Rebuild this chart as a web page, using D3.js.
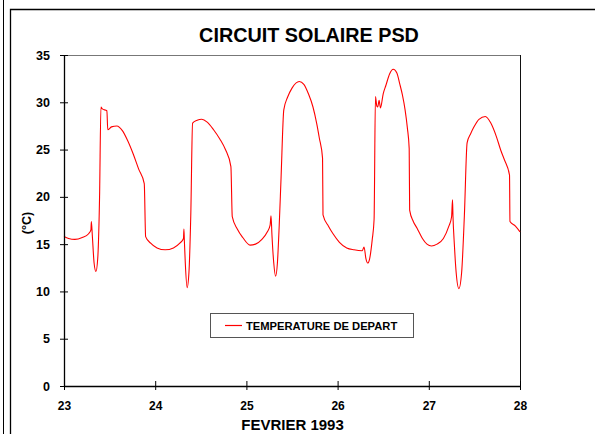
<!DOCTYPE html>
<html>
<head>
<meta charset="utf-8">
<script src="https://cdn.jsdelivr.net/npm/d3@7"></script>
<style>
  html, body { margin: 0; padding: 0; background: #fff; }
  svg { display: block; font-family: "Liberation Sans", Arial, sans-serif; }
</style>
</head>
<body>
<svg id="chart" width="595" height="434"></svg>
<script>
// ---- data ----
const title = "CIRCUIT SOLAIRE PSD";
const xTitle = "FEVRIER 1993";
const yTitle = "(°C)";
const seriesName = "TEMPERATURE DE DEPART";
const xTicks = [23, 24, 25, 26, 27, 28];
const yTicks = [0, 5, 10, 15, 20, 25, 30, 35];

const days = [
  23.00, 23.05, 23.12, 23.20, 23.27, 23.295, 23.30, 23.31, 23.33, 23.35, 23.37, 23.39, 23.405, 23.42, 23.47, 23.48,
  23.52, 23.58, 23.64, 23.70, 23.76, 23.82, 23.88, 23.895, 23.95, 24.02, 24.11, 24.20, 24.27, 24.31, 24.315, 24.32,
  24.33, 24.35, 24.37, 24.39, 24.41, 24.46, 24.51, 24.57, 24.64, 24.71, 24.77, 24.83, 24.845, 24.90, 24.96, 25.04,
  25.10, 25.17, 25.23, 25.26, 25.27, 25.28, 25.30, 25.32, 25.34, 25.36, 25.38, 25.41, 25.45, 25.50, 25.58, 25.63,
  25.68, 25.73, 25.77, 25.80, 25.835, 25.84, 25.90, 25.95, 26.02, 26.10, 26.18, 26.27, 26.29, 26.31, 26.33, 26.35,
  26.38, 26.40, 26.415, 26.43, 26.44, 26.455, 26.47, 26.50, 26.53, 26.57, 26.61, 26.65, 26.68, 26.71, 26.74, 26.765,
  26.785, 26.79, 26.83, 26.87, 26.93, 26.98, 27.03, 27.09, 27.16, 27.22, 27.25, 27.26, 27.265, 27.28, 27.30, 27.33,
  27.36, 27.39, 27.42, 27.46, 27.49, 27.55, 27.62, 27.68, 27.74, 27.79, 27.83, 27.885, 27.89, 27.95, 28.00
];
const temps = [
  15.8, 15.6, 15.5, 15.7, 16.1, 16.5, 17.4, 16.0, 13.0, 12.1, 13.5, 20.0, 29.5, 29.3, 29.1, 27.1,
  27.4, 27.5, 27.0, 25.9, 24.5, 22.9, 21.4, 15.8, 15.1, 14.6, 14.4, 14.6, 15.1, 15.6, 16.6, 15.3,
  13.0, 10.4, 12.0, 18.0, 27.8, 28.1, 28.2, 27.9, 27.1, 26.1, 25.0, 23.2, 17.9, 16.6, 15.7, 14.9,
  15.0, 15.5, 16.3, 17.0, 18.0, 16.0, 13.0, 11.6, 13.0, 17.0, 22.0, 29.2, 30.5, 31.5, 32.2, 31.9,
  30.9, 29.5, 27.8, 26.2, 24.1, 18.1, 16.9, 16.1, 15.2, 14.6, 14.4, 14.3, 14.7, 13.5, 13.0, 13.4,
  15.5, 17.6, 30.6, 29.6, 29.5, 30.2, 29.4, 30.9, 31.8, 33.0, 33.5, 33.1, 32.0, 30.8, 29.2, 27.3,
  25.1, 18.6, 17.4, 16.7, 15.6, 15.0, 14.8, 15.0, 15.6, 16.9, 17.9, 19.7, 18.0, 15.0, 12.0, 10.3,
  12.0, 18.0, 25.7, 26.7, 27.3, 28.2, 28.5, 27.8, 26.4, 24.9, 23.9, 22.3, 17.4, 16.9, 16.3
];

// ---- layout ----
const svg = d3.select("#chart");
const L = 64, R = 520, T = 55, B = 386;
const x = d3.scaleLinear().domain([23, 28]).range([L, R]);
const y = d3.scaleLinear().domain([0, 35]).range([B, T]);

// outer frames
svg.append("line").attr("x1", 3.5).attr("x2", 3.5).attr("y1", 0).attr("y2", 434)
  .attr("stroke", "#000").attr("stroke-width", 1);
svg.append("path").attr("d", "M10.5,434 V9.5 H595")
  .attr("fill", "none").attr("stroke", "#000").attr("stroke-width", 1.3);

// plot border top/right
svg.append("line").attr("x1", L).attr("x2", R).attr("y1", T + 0.5).attr("y2", T + 0.5)
  .attr("stroke", "#777").attr("stroke-width", 1);
svg.append("line").attr("x1", R + 0.5).attr("x2", R + 0.5).attr("y1", T).attr("y2", B)
  .attr("stroke", "#111").attr("stroke-width", 1);

// line
const line = d3.line()
  .x((d, i) => x(days[i]))
  .y((d, i) => y(temps[i]))
  .curve(d3.curveMonotoneX);
svg.append("path").datum(temps)
  .attr("d", line)
  .attr("fill", "none")
  .attr("stroke", "#ff0000")
  .attr("stroke-width", 1.1);

// axes
const yAxis = d3.axisLeft(y).tickValues(yTicks).tickSize(0).tickPadding(14).tickFormat(d3.format("d"));
const gy = svg.append("g").attr("transform", `translate(${L},0)`).call(yAxis);
gy.select(".domain").attr("stroke", "#000").attr("stroke-width", 1.3);
gy.selectAll(".tick line").remove();
gy.selectAll(".tick").append("line").attr("x1", -4).attr("x2", 4).attr("stroke", "#000").attr("stroke-width", 1);
gy.selectAll(".tick text").attr("font-size", 12.5).attr("font-weight", "bold").attr("fill", "#000")
  .attr("font-family", "Liberation Sans, Arial, sans-serif");

const xAxis = d3.axisBottom(x).tickValues(xTicks).tickSize(0).tickPadding(15).tickFormat(d3.format("d"));
const gx = svg.append("g").attr("transform", `translate(0,${B})`).call(xAxis);
gx.select(".domain").attr("stroke", "#000").attr("stroke-width", 1.3);
gx.selectAll(".tick line").remove();
gx.selectAll(".tick").append("line").attr("y1", -5).attr("y2", 4).attr("stroke", "#000").attr("stroke-width", 1);
gx.selectAll(".tick text").attr("font-size", 12).attr("font-weight", "bold").attr("fill", "#000")
  .attr("font-family", "Liberation Sans, Arial, sans-serif");

// titles
svg.append("text").attr("x", 309).attr("y", 42).attr("text-anchor", "middle")
  .attr("font-size", 19.8).attr("font-weight", "bold").text(title);
svg.append("text").attr("x", 292.5).attr("y", 430).attr("text-anchor", "middle")
  .attr("font-size", 15).attr("font-weight", "bold").text(xTitle);
svg.append("text").attr("transform", "translate(31,223) rotate(-90)").attr("text-anchor", "middle")
  .attr("font-size", 12.5).attr("font-weight", "bold").text(yTitle);

// legend
const lg = svg.append("g");
lg.append("rect").attr("x", 210.5).attr("y", 313.5).attr("width", 203).attr("height", 24)
  .attr("fill", "#fff").attr("stroke", "#555").attr("stroke-width", 1);
lg.append("line").attr("x1", 225).attr("x2", 242).attr("y1", 325.5).attr("y2", 325.5)
  .attr("stroke", "#ff0000").attr("stroke-width", 1.2);
lg.append("text").attr("x", 246).attr("y", 329.5).attr("font-size", 11.2).attr("font-weight", "bold")
  .text(seriesName);
</script>
</body>
</html>
